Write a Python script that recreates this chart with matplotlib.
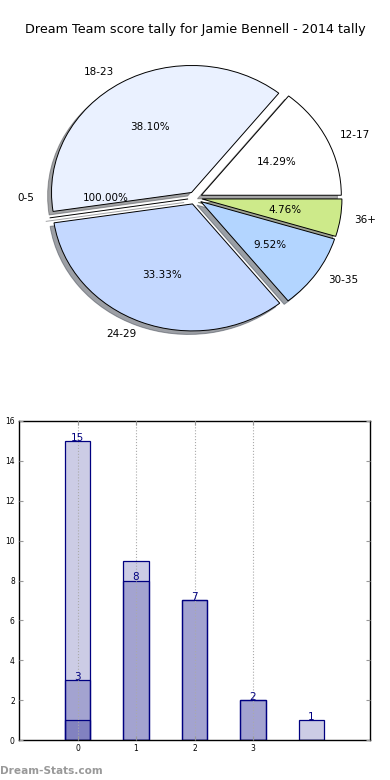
import matplotlib
matplotlib.use("Agg")
import matplotlib.pyplot as plt

# Pie data
pie_labels = ['12-17', '18-23', '0-5', '24-29', '30-35', '36+']
pie_values = [3, 8, 0, 7, 2, 1]
pie_pct_text = ['14.29%', '38.10%', '100.00%', '33.33%', '9.52%', '4.76%']
pie_colors = ['#FFFFFF', '#EAF1FF', '#EAF1FF', '#C4D8FF', '#B3D5FF', '#CDEA8A']

# Bar data (three overlapping translucent series)
bar_x = [0, 1, 2, 3, 4]
series_a = [15, 9, 7, 2, 1]
series_b = [3, 8, 7, 2, 0]
series_c = [1, 0, 0, 0, 0]
value_labels_x = [0, 0, 1, 2, 3, 4]
value_labels_y = [15, 3, 8, 7, 2, 1]
xtick_vals = [0, 1, 2, 3]
ytick_vals = [0, 2, 4, 6, 8, 10, 12, 14, 16]

fig = plt.figure(figsize=(3.9, 7.8), dpi=100)

fig.text(0.5, 1 - 30 / 780, 'Dream Team score tally for Jamie Bennell - 2014 tally',
         ha='center', va='center', fontsize=9.2)

ax1 = fig.add_axes([20 / 390, (780 - 356.75) / 780, 350 / 390, 317.5 / 780])
it = iter(pie_pct_text)
wedges, texts, autotexts = ax1.pie(
    pie_values, labels=pie_labels, colors=pie_colors,
    explode=[0.05] * len(pie_values), startangle=0, shadow=True,
    autopct=lambda p: next(it), pctdistance=0.6, labeldistance=1.1,
    wedgeprops=dict(edgecolor='black', linewidth=0.7),
    textprops=dict(fontsize=7.5))
# the empty "0-5" slice is labelled on the horizontal axis
texts[2].set_position((-1.15, 0.0))
texts[2].set_ha('right')
autotexts[2].set_position((-0.64, 0.0))
ax1.set_aspect('auto')
ax1.set_xlim(-1.25, 1.25)
ax1.set_ylim(-1.25, 1.25)
ax1.axis('off')

ax2 = fig.add_axes([19 / 390, 40 / 780, 351 / 390, 319 / 780])
for s in (series_a, series_b, series_c):
    ax2.bar(bar_x, s, width=0.44, color=(0, 0, 0.5, 0.2), edgecolor='navy',
            linewidth=0.9, zorder=2)
for x, y in zip(value_labels_x, value_labels_y):
    ax2.text(x, y - 0.1, str(y), ha='center', va='bottom', color='navy', fontsize=7.5, zorder=4)
ax2.set_xlim(-1, 5)
ax2.set_ylim(0, 16)
ax2.set_xticks(xtick_vals)
ax2.set_yticks(ytick_vals)
ax2.xaxis.grid(True, linestyle=':', color='#aaaaaa', linewidth=0.8, zorder=3)
ax2.set_axisbelow(False)
ax2.tick_params(labelsize=5.5, direction='in', length=3, color='#999999',
                top=True, right=True, pad=3)
for sp in ax2.spines.values():
    sp.set_linewidth(1.0)

fig.text(0.0, 1 - 771 / 780, 'Dream-Stats.com', ha='left', va='center',
         fontsize=7.6, color='#999999', fontweight='bold')

fig.savefig('out.png', dpi=100)
